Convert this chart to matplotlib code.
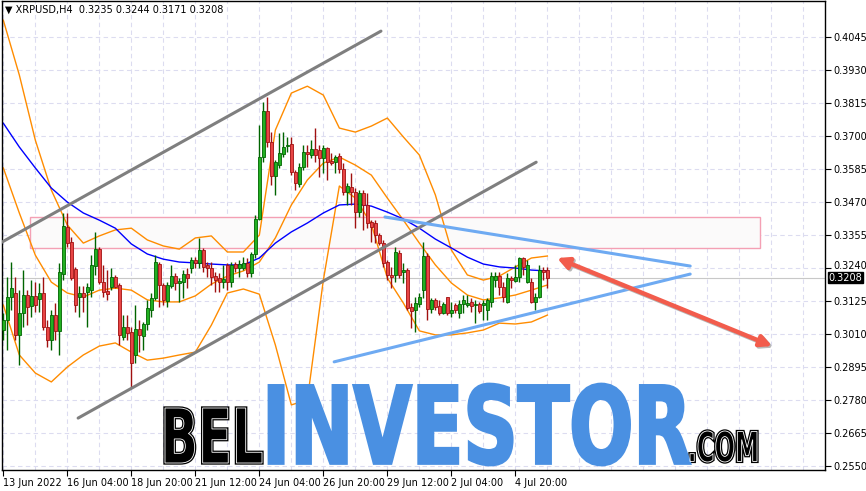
"""XRPUSD H4 candlestick chart with Bollinger bands, MA and drawn objects."""

import matplotlib

matplotlib.use("Agg")

import matplotlib.pyplot as plt
from matplotlib.font_manager import FontProperties
from matplotlib.patches import FancyArrowPatch, PathPatch, Rectangle
from matplotlib.textpath import TextPath
from matplotlib.transforms import Affine2D, blended_transform_factory

# ---- data (bar index = H4 bar counted from the left edge) ----
opens = [
    0.3025, 0.3060, 0.3140, 0.3154, 0.3008, 0.3084, 0.3147, 0.3109, 0.3143, 0.3133,
    0.3154, 0.3036, 0.2990, 0.3077, 0.3022, 0.3220, 0.3384, 0.3332, 0.3238, 0.3140,
    0.3154, 0.3157, 0.3164, 0.3248, 0.3307, 0.3192, 0.3161, 0.3175, 0.3210, 0.3182,
    0.3001, 0.3036, 0.3018, 0.2938, 0.3029, 0.3004, 0.3046, 0.3095, 0.3137, 0.3255,
    0.3182, 0.3126, 0.3178, 0.3213, 0.3189, 0.3192, 0.3220, 0.3241, 0.3269, 0.3259,
    0.3304, 0.3252, 0.3241, 0.3213, 0.3206, 0.3192, 0.3252, 0.3192, 0.3255, 0.3241,
    0.3241, 0.3258, 0.3224, 0.3290, 0.3412, 0.3628, 0.3788, 0.3680, 0.3562, 0.3600,
    0.3638, 0.3666, 0.3673, 0.3576, 0.3534, 0.3593, 0.3645, 0.3635, 0.3656, 0.3652,
    0.3624, 0.3659, 0.3614, 0.3610, 0.3631, 0.3586, 0.3506, 0.3523, 0.3506, 0.3436,
    0.3503, 0.3461, 0.3402, 0.3398, 0.3356, 0.3328, 0.3262, 0.3217, 0.3217, 0.3293,
    0.3227, 0.3234, 0.3105, 0.3095, 0.3116, 0.3164, 0.3283, 0.3098, 0.3130, 0.3109,
    0.3084, 0.3140, 0.3084, 0.3112, 0.3084, 0.3116, 0.3112, 0.3123, 0.3112, 0.3116,
    0.3112, 0.3095, 0.3123, 0.3199, 0.3213, 0.3175, 0.3123, 0.3206, 0.3196, 0.3210,
    0.3276, 0.3192, 0.3192, 0.3123, 0.3140, 0.3234, 0.3235,
]
highs = [
    0.3084, 0.3210, 0.3262, 0.3210, 0.3164, 0.3234, 0.3164, 0.3199, 0.3192, 0.3189,
    0.3210, 0.3060, 0.3095, 0.3119, 0.3258, 0.3433, 0.3433, 0.3349, 0.3245, 0.3178,
    0.3178, 0.3189, 0.3286, 0.3366, 0.3314, 0.3252, 0.3234, 0.3241, 0.3217, 0.3189,
    0.3077, 0.3077, 0.3036, 0.3112, 0.3060, 0.3053, 0.3130, 0.3154, 0.3286, 0.3262,
    0.3189, 0.3192, 0.3252, 0.3224, 0.3206, 0.3234, 0.3241, 0.3280, 0.3280, 0.3346,
    0.3311, 0.3262, 0.3262, 0.3227, 0.3224, 0.3252, 0.3258, 0.3262, 0.3262, 0.3269,
    0.3280, 0.3276, 0.3297, 0.3426, 0.3739, 0.3820, 0.3837, 0.3715, 0.3617, 0.3712,
    0.3715, 0.3698, 0.3698, 0.3583, 0.3607, 0.3670, 0.3670, 0.3687, 0.3729, 0.3670,
    0.3670, 0.3663, 0.3642, 0.3635, 0.3642, 0.3607, 0.3537, 0.3572, 0.3520, 0.3513,
    0.3513, 0.3503, 0.3408, 0.3408, 0.3363, 0.3339, 0.3269, 0.3245, 0.3314, 0.3304,
    0.3258, 0.3241, 0.3119, 0.3140, 0.3154, 0.3332, 0.3293, 0.3137, 0.3137, 0.3130,
    0.3123, 0.3140, 0.3123, 0.3119, 0.3130, 0.3147, 0.3147, 0.3137, 0.3130, 0.3123,
    0.3130, 0.3137, 0.3227, 0.3227, 0.3227, 0.3192, 0.3224, 0.3213, 0.3252, 0.3280,
    0.3280, 0.3269, 0.3206, 0.3154, 0.3252, 0.3245, 0.3244,
]
lows = [
    0.2990, 0.2955, 0.3095, 0.2990, 0.2903, 0.3036, 0.3042, 0.3070, 0.3088, 0.3088,
    0.3025, 0.2966, 0.2955, 0.2990, 0.2938, 0.3199, 0.3314, 0.3199, 0.3088, 0.3070,
    0.3088, 0.3036, 0.3140, 0.3217, 0.3185, 0.3140, 0.3130, 0.3164, 0.3172, 0.2973,
    0.2990, 0.2990, 0.2826, 0.2910, 0.2948, 0.2955, 0.3025, 0.3070, 0.3130, 0.3105,
    0.3112, 0.3105, 0.3172, 0.3164, 0.3123, 0.3137, 0.3172, 0.3224, 0.3241, 0.3241,
    0.3227, 0.3210, 0.3182, 0.3157, 0.3157, 0.3172, 0.3164, 0.3175, 0.3227, 0.3210,
    0.3234, 0.3210, 0.3210, 0.3276, 0.3409, 0.3611, 0.3663, 0.3530, 0.3495, 0.3590,
    0.3628, 0.3645, 0.3565, 0.3513, 0.3523, 0.3583, 0.3593, 0.3624, 0.3610, 0.3558,
    0.3572, 0.3548, 0.3600, 0.3572, 0.3572, 0.3495, 0.3461, 0.3461, 0.3380, 0.3419,
    0.3374, 0.3380, 0.3332, 0.3328, 0.3321, 0.3245, 0.3199, 0.3172, 0.3192, 0.3206,
    0.3189, 0.3095, 0.3032, 0.3018, 0.3105, 0.3137, 0.3060, 0.3084, 0.3095, 0.3077,
    0.3081, 0.3077, 0.3070, 0.3084, 0.3067, 0.3084, 0.3105, 0.3088, 0.3050, 0.3084,
    0.3060, 0.3060, 0.3105, 0.3175, 0.3147, 0.3123, 0.3119, 0.3172, 0.3192, 0.3192,
    0.3217, 0.3189, 0.3119, 0.3095, 0.3137, 0.3199, 0.3171,
]
closes = [
    0.3060, 0.3140, 0.3172, 0.3008, 0.3084, 0.3147, 0.3105, 0.3143, 0.3112, 0.3154,
    0.3036, 0.2990, 0.3077, 0.3022, 0.3227, 0.3388, 0.3328, 0.3206, 0.3112, 0.3154,
    0.3140, 0.3175, 0.3252, 0.3307, 0.3192, 0.3157, 0.3150, 0.3210, 0.3175, 0.3008,
    0.3036, 0.3015, 0.2910, 0.3029, 0.3008, 0.3046, 0.3102, 0.3137, 0.3262, 0.3182,
    0.3130, 0.3182, 0.3213, 0.3189, 0.3196, 0.3220, 0.3206, 0.3269, 0.3259, 0.3304,
    0.3245, 0.3241, 0.3210, 0.3199, 0.3192, 0.3203, 0.3192, 0.3252, 0.3241, 0.3255,
    0.3258, 0.3224, 0.3290, 0.3412, 0.3628, 0.3788, 0.3680, 0.3562, 0.3610, 0.3642,
    0.3663, 0.3670, 0.3576, 0.3537, 0.3593, 0.3645, 0.3638, 0.3656, 0.3635, 0.3624,
    0.3659, 0.3610, 0.3607, 0.3628, 0.3586, 0.3506, 0.3527, 0.3506, 0.3436, 0.3503,
    0.3461, 0.3398, 0.3384, 0.3356, 0.3328, 0.3259, 0.3217, 0.3210, 0.3297, 0.3217,
    0.3234, 0.3102, 0.3091, 0.3119, 0.3140, 0.3283, 0.3098, 0.3130, 0.3105, 0.3084,
    0.3116, 0.3084, 0.3095, 0.3095, 0.3116, 0.3130, 0.3119, 0.3109, 0.3116, 0.3091,
    0.3119, 0.3130, 0.3213, 0.3213, 0.3175, 0.3140, 0.3206, 0.3199, 0.3210, 0.3276,
    0.3245, 0.3252, 0.3123, 0.3140, 0.3234, 0.3227, 0.3208,
]

# indicator lines, read every 4th bar
band_bars = list(range(0, 137, 4))
bb_upper = [
    0.4105, 0.3914, 0.3687, 0.3513, 0.3391, 0.3328, 0.3353, 0.3374, 0.3380, 0.3339,
    0.3318, 0.3307, 0.3346, 0.3353, 0.3297, 0.3297, 0.3356, 0.3722, 0.3851, 0.3875,
    0.3844, 0.3729, 0.3715, 0.3736, 0.3764, 0.3698, 0.3635, 0.3496, 0.3304, 0.3217,
    0.3199, 0.3213, 0.3245, 0.3276, 0.3283,
]
bb_middle = [
    0.3590, 0.3433, 0.3286, 0.3192, 0.3154, 0.3140, 0.3164, 0.3171, 0.3164, 0.3130,
    0.3123, 0.3123, 0.3144, 0.3185, 0.3213, 0.3231, 0.3262, 0.3346, 0.3461, 0.3548,
    0.3607, 0.3628, 0.3600, 0.3565, 0.3485, 0.3408, 0.3328, 0.3252, 0.3189, 0.3147,
    0.3130, 0.3137, 0.3147, 0.3164, 0.3182,
]
bb_lower = [
    0.3112, 0.2938, 0.2875, 0.2844, 0.2896, 0.2938, 0.2969, 0.2980, 0.2948, 0.2920,
    0.2927, 0.2938, 0.2948, 0.3042, 0.3154, 0.3168, 0.3150, 0.2973, 0.2764, 0.2781,
    0.3199, 0.3527, 0.3485, 0.3394, 0.3206, 0.3119, 0.3022, 0.3008, 0.3008, 0.3015,
    0.3025, 0.3049, 0.3046, 0.3053, 0.3077,
]
ma_slow = [
    0.3746, 0.3663, 0.3590, 0.3520, 0.3471, 0.3433, 0.3408, 0.3380, 0.3325, 0.3290,
    0.3272, 0.3262, 0.3259, 0.3255, 0.3252, 0.3252, 0.3276, 0.3328, 0.3367, 0.3398,
    0.3433, 0.3461, 0.3464, 0.3457, 0.3436, 0.3412, 0.3380, 0.3342, 0.3311, 0.3279,
    0.3255, 0.3245, 0.3241, 0.3234, 0.3231,
]

# drawn objects: (bar, price) end points
channel_upper = [(-0.8, 0.3328), (94.4, 0.4067)]
channel_lower = [(18.7, 0.2718), (133.2, 0.3610)]
wedge_upper = [(95.4, 0.3419), (171.7, 0.3248)]
wedge_lower = [(82.7, 0.2914), (171.7, 0.3220)]
zone_bars = (6.7, 189.2)
zone_prices = (0.3311, 0.3419)
forecast = [(138.4, 0.3276), (192.2, 0.2969)]

price_ticks = [0.4045, 0.3930, 0.3815, 0.3700, 0.3585, 0.3470, 0.3355,
               0.3240, 0.3125, 0.3010, 0.2895, 0.2780, 0.2665, 0.2550]
time_ticks = [0, 16, 32, 48, 64, 80, 96, 112, 128]
time_labels = ["13 Jun 2022", "16 Jun 04:00", "18 Jun 20:00", "21 Jun 12:00",
               "24 Jun 04:00", "26 Jun 20:00", "29 Jun 12:00", "2 Jul 04:00",
               "4 Jul 20:00"]
last_price = 0.3208
header = "XRPUSD,H4  0.3235 0.3244 0.3171 0.3208"

W, H = 866, 491
GRID = "#dcdcf0"
UP_BODY, UP_EDGE = "#22b022", "#006400"
DN_BODY, DN_EDGE = "#e84545", "#a01010"

plt.rcParams["font.family"] = ["DejaVu Sans"]
fig = plt.figure(figsize=(W / 100, H / 100), dpi=100)
ax = fig.add_axes([2 / W, (H - 470) / H, 823 / W, 469 / H])
ax.set_xlim(-0.33, 205.4)
ax.set_ylim(0.2537, 0.4172)

# grid
for b in range(0, 206, 8):
    ax.axvline(b, color=GRID, lw=0.8, ls=(0, (4, 3)), zorder=0)
for p in price_ticks:
    ax.axhline(p, color=GRID, lw=0.8, ls=(0, (4, 3)), zorder=0)
ax.axhline(last_price, color="#c8c8c8", lw=0.8, zorder=0.5)

# support / resistance zone
ax.add_patch(Rectangle((zone_bars[0], zone_prices[0]), zone_bars[1] - zone_bars[0],
                       zone_prices[1] - zone_prices[0], facecolor="#fbfafa",
                       edgecolor="#f4a0b4", lw=1.0, zorder=0.6))

# indicators
ax.plot(band_bars, bb_upper, color="#ff8c00", lw=1.0, zorder=2)
ax.plot(band_bars, bb_middle, color="#ff8c00", lw=1.0, zorder=2)
ax.plot(band_bars, bb_lower, color="#ff8c00", lw=1.0, zorder=2)
ax.plot(band_bars, ma_slow, color="#0000ff", lw=1.0, zorder=2)

# candles
bars = list(range(len(closes)))
for i in bars:
    o, h, l, c = opens[i], highs[i], lows[i], closes[i]
    up = c >= o
    ax.vlines(i, l, h, color=UP_EDGE if up else DN_EDGE, lw=1.0, zorder=3)
    ax.bar(i, max(abs(c - o), 0.00015), bottom=min(o, c), width=0.65,
           color=UP_BODY if up else DN_BODY, edgecolor=UP_EDGE if up else DN_EDGE,
           linewidth=0.6, zorder=4)

# trend lines
for line in (channel_upper, channel_lower):
    ax.plot([line[0][0], line[1][0]], [line[0][1], line[1][1]],
            color="#7f7f7f", lw=2.2, solid_capstyle="round", zorder=5)
for line in (wedge_upper, wedge_lower):
    ax.plot([line[0][0], line[1][0]], [line[0][1], line[1][1]],
            color="#6eaaf2", lw=2.2, solid_capstyle="round", zorder=5)

# forecast arrow with soft shadow
shadow = Affine2D().translate(1.5, -1.5)
for col, off in (("#b8b8b8", True), ("#f25c4c", False)):
    arr = FancyArrowPatch(forecast[0], forecast[1], arrowstyle="<|-|>",
                          mutation_scale=17, color=col, lw=3.2, zorder=6,
                          shrinkA=0, shrinkB=0)
    if off:
        arr.set_transform(ax.transData + shadow)
    ax.add_patch(arr)

# axes styling
for s in ax.spines.values():
    s.set_color("black")
    s.set_linewidth(1.0)
ax.yaxis.tick_right()
ax.set_yticks(price_ticks)
ax.set_yticklabels([f"{p:.4f}" for p in price_ticks])
ax.set_xticks(time_ticks)
ax.set_xticklabels(time_labels, ha="left")
ax.tick_params(axis="both", labelsize=7, length=4, width=0.8, pad=1.5,
               color="black", labelcolor="black")
ax.tick_params(axis="y", pad=2)

# the tick label just above the price box sits slightly raised
for lab in ax.get_yticklabels():
    if lab.get_text() == "0.3240":
        lab.set_transform(lab.get_transform() + Affine2D().translate(0, 3))

trans = blended_transform_factory(ax.transAxes, ax.transData)
ax.text(1.004, last_price, f"{last_price:.4f}", transform=trans, ha="left",
        va="center", fontsize=7, color="white", zorder=10,
        bbox=dict(boxstyle="square,pad=0.08", fc="black", ec="black"))

fig.text(5 / W, 1 - 10 / H, "\u25bc " + header, fontsize=7, va="center",
         ha="left", color="black")


# watermark
def text_patch(txt, box, **style):
    prop = FontProperties(family=["Liberation Sans Narrow", "DejaVu Sans"],
                          weight="bold")
    tp = TextPath((0, 0), txt, size=100, prop=prop)
    ext = tp.get_extents()
    x0, y0, x1, y1 = box
    tr = (Affine2D().translate(-ext.x0, -ext.y0)
          .scale((x1 - x0) / ext.width, (y1 - y0) / ext.height)
          .translate(x0, H - y1).scale(1 / W, 1 / H))
    return PathPatch(tr.transform_path(tp), transform=fig.transFigure, **style)


for txt, box, color in (("BEL", (165, 408, 262, 463), "black"),
                        (".COM", (690, 431, 757, 462), "black")):
    fig.patches.append(text_patch(txt, box, facecolor=color, edgecolor=color,
                                  lw=2.4, zorder=20))
    fig.patches.append(text_patch(txt, box, facecolor="none",
                                  edgecolor="white", lw=0.6, zorder=21))
fig.patches.append(text_patch("INVESTOR", (269, 384, 690, 465),
                              facecolor="#4a90e2", edgecolor="#4a90e2",
                              lw=2.0, zorder=20))

fig.savefig("out.png", dpi=100)
